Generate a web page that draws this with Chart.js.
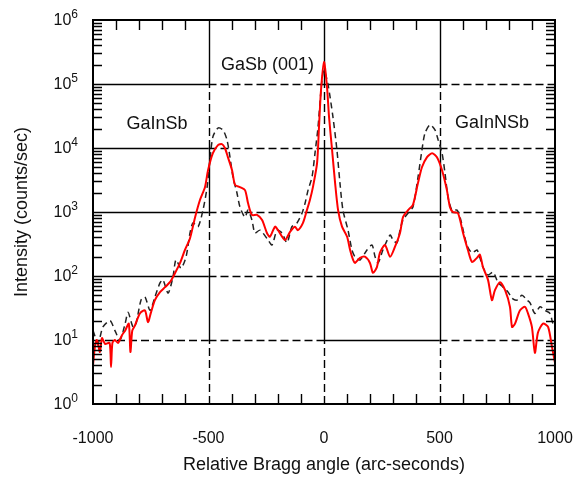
<!DOCTYPE html>
<html>
<head>
<meta charset="utf-8">
<script src="https://cdn.jsdelivr.net/npm/chart.js@4"></script>
<style>
html, body { margin: 0; padding: 0; background: #fff; }
#wrap { width: 584px; height: 479px; position: relative; }
</style>
</head>
<body>
<div id="wrap"><canvas id="xrd"></canvas></div>
<script>
// measured rocking curve (red)
var measuredX = [-1000, -991, -983, -970, -961, -948, -928, -922, -916, -905, -892, -874, -861, -845, -838, -830, -818,
  -797, -775, -762, -749, -732, -710, -688, -667, -649, -623, -602, -580, -558, -537, -515, -502, -481, -459, -442,
  -429, -416, -398, -385, -364, -342, -329, -312, -290, -268, -247, -234, -212, -199, -169, -147, -126, -113, -91,
  -74, -61, -48, -30, -22, -13, 0, 13, 22, 35, 48, 61, 78, 100, 113, 126, 134, 156, 177, 199, 212, 229, 242, 264,
  286, 307, 329, 342, 364, 385, 407, 424, 446, 468, 489, 511, 532, 545, 558, 580, 602, 623, 641, 662, 675, 688,
  710, 727, 740, 762, 784, 805, 814, 827, 848, 870, 883, 900, 913, 926, 948, 970, 987, 1000];
var measuredY = [4, 8.3, 10, 6.5, 10.7, 8.7, 9, 3.8, 9, 10, 9, 12, 14, 18, 6.5, 14, 17,
  26, 29, 19, 27, 42, 56, 67, 80, 104, 160, 255, 390, 830, 1540, 2460, 4500, 8300, 11100, 11500,
  10000, 7200, 4500, 2650, 2450, 2200, 1380, 900, 900, 750, 470, 410, 590, 520, 365, 490, 590, 520, 675,
  1070, 1540, 2450, 5800, 20000, 80000, 220000, 90000, 30000, 9300, 2850, 1070, 590, 410, 255, 178, 160, 192, 200, 160, 112, 138, 230, 305,
  200, 285, 470, 830, 1070, 1290, 2850, 5000, 7200, 8300, 7200, 4500, 2200, 1200, 1000, 960, 470, 255, 165, 192, 215, 138,
  87, 42, 60, 80, 60, 33, 16, 18, 29, 33, 26, 16, 6.3, 13, 18, 16, 7.8, 4.4];

// simulated curve (dashed)
var simX = [-1000, -978, -957, -926, -905, -883, -861, -848, -827, -814, -792, -775, -753, -732, -710, -697, -675,
  -654, -641, -619, -597, -580, -567, -545, -524, -506, -494, -481, -459, -437, -420, -407, -394, -377, -364, -342,
  -329, -312, -299, -277, -242, -225, -203, -182, -160, -139, -117, -95, -82, -69, -52, -39, -26, -9, 0, 17, 39,
  56, 69, 82, 104, 121, 134, 156, 186, 208, 221, 234, 255, 286, 299, 316, 329, 342, 364, 385, 407, 424, 437, 459,
  481, 494, 511, 524, 537, 554, 576, 589, 619, 641, 662, 675, 688, 710, 732, 753, 775, 797, 814, 835, 857, 879,
  892, 913, 935, 957, 978, 991, 1000];
var simY = [14, 9, 16, 20, 14, 10, 18, 27, 16, 18, 42, 47, 29, 47, 78, 87, 54,
  96, 178, 133, 200, 470, 675, 590, 1070, 2450, 6500, 14900, 20500, 19000, 13400, 7200, 3500, 2000, 1200, 830,
  1070, 750, 470, 520, 365, 305, 520, 470, 330, 590, 675, 960, 1370, 2200, 3500, 8300, 21000, 115000, 165000, 100000, 30000,
  9300, 2850, 1070, 520, 255, 200, 178, 255, 305, 200, 160, 255, 435, 365, 330, 520, 750, 960, 1200, 3500, 9300, 17000, 23000,
  19000, 13400, 8300, 4000, 1700, 1070, 1070, 830, 300, 230, 255, 192, 138, 104, 115, 80, 67, 56, 45, 42, 50, 42,
  38, 26, 33, 29, 26, 18, 16];

var xTicks = [-1000, -500, 0, 500, 1000];
var yTicks = [1, 10, 100, 1000, 10000, 100000, 1000000];
var peakNames = ['GaSb (001)', 'GaInSb', 'GaInNSb'];
var peakNameX = [-245, -723, 727];
var peakNameY = [200000, 24000, 24500];

function pairs(xs, ys) {
  return xs.map(function(x, i) { return {x: x, y: ys[i]}; });
}

var FONT = 'Liberation Sans, Arial, sans-serif';

var framePlugin = {
  id: 'frame',
  beforeDatasetsDraw: function(chart) {
    var ctx = chart.ctx, xs = chart.scales.x, ys = chart.scales.y;
    ctx.save();
    ctx.strokeStyle = '#000';
    ctx.lineWidth = 1.4;
    // horizontal grid: solid / dashed pieces between the vertical lines
    for (var d = 1; d < yTicks.length - 1; d++) {
      var py = Math.round(ys.getPixelForValue(yTicks[d])) + 0.5;
      for (var i = 0; i < xTicks.length - 1; i++) {
        var solid = (i % 2 === 0) && !(yTicks[d] === 10 && i === 0);
        ctx.setLineDash(solid ? [] : [8, 4]);
        ctx.beginPath();
        ctx.moveTo(xs.getPixelForValue(xTicks[i]), py);
        ctx.lineTo(xs.getPixelForValue(xTicks[i + 1]), py);
        ctx.stroke();
      }
    }
    // vertical grid
    for (var k = 1; k < xTicks.length - 1; k++) {
      var px = Math.round(xs.getPixelForValue(xTicks[k])) + 0.5;
      for (var j = 0; j < yTicks.length - 1; j++) {
        ctx.setLineDash(j % 2 === 1 ? [] : [8, 4]);
        ctx.beginPath();
        ctx.moveTo(px, ys.getPixelForValue(yTicks[j]));
        ctx.lineTo(px, ys.getPixelForValue(yTicks[j + 1]));
        ctx.stroke();
      }
    }
    ctx.restore();
  },
  afterDatasetsDraw: function(chart) {
    var ctx = chart.ctx, xs = chart.scales.x, ys = chart.scales.y, a = chart.chartArea;
    ctx.save();
    ctx.strokeStyle = '#000';
    ctx.lineWidth = 1.4;
    ctx.beginPath();
    // minor ticks on x, pointing inwards
    for (var v = -900; v < 1000; v += 100) {
      if (v % 500 === 0) continue;
      var px = Math.round(xs.getPixelForValue(v)) + 0.5;
      ctx.moveTo(px, a.bottom); ctx.lineTo(px, a.bottom - 10);
      ctx.moveTo(px, a.top); ctx.lineTo(px, a.top + 10);
    }
    // log minor ticks on y
    for (var d = 0; d < yTicks.length - 1; d++) {
      for (var m = 2; m <= 9; m++) {
        var py = Math.round(ys.getPixelForValue(yTicks[d] * m)) + 0.5;
        ctx.moveTo(a.left, py); ctx.lineTo(a.left + 9, py);
        ctx.moveTo(a.right, py); ctx.lineTo(a.right - 9, py);
      }
    }
    ctx.stroke();
    ctx.lineWidth = 2;
    ctx.strokeRect(a.left, a.top, a.right - a.left, a.bottom - a.top);

    // decade labels 10^n
    ctx.fillStyle = '#111';
    ctx.textAlign = 'right';
    for (var t = 0; t < yTicks.length; t++) {
      var y = ys.getPixelForValue(yTicks[t]);
      var exp = String(Math.round(Math.log10(yTicks[t])));
      ctx.font = '12px ' + FONT;
      ctx.textBaseline = 'alphabetic';
      ctx.fillText(exp, 78, y - 2);
      var w = ctx.measureText(exp).width;
      ctx.font = '16px ' + FONT;
      ctx.textBaseline = 'middle';
      ctx.fillText('10', 78 - w, y + 1);
    }

    // peak names
    ctx.font = '18px ' + FONT;
    ctx.textAlign = 'center';
    ctx.textBaseline = 'middle';
    for (var n = 0; n < peakNames.length; n++) {
      ctx.fillText(peakNames[n], xs.getPixelForValue(peakNameX[n]), ys.getPixelForValue(peakNameY[n]));
    }
    ctx.restore();
  }
};

var ctx = document.getElementById('xrd').getContext('2d');
var xrdChart = new Chart(ctx, {
  type: 'line',
  data: {
    datasets: [{
      label: 'Measured',
      data: pairs(measuredX, measuredY),
      borderColor: '#ff0000',
      borderWidth: 2,
      pointRadius: 0,
      tension: 0.25,
      fill: false
    }, {
      label: 'Simulated',
      data: pairs(simX, simY),
      borderColor: '#222',
      borderWidth: 1.5,
      borderDash: [6, 4],
      pointRadius: 0,
      tension: 0.25,
      fill: false
    }]
  },
  options: {
    responsive: true,
    maintainAspectRatio: false,
    animation: false,
    layout: { padding: { top: 20, right: 29, left: 0, bottom: 0 } },
    plugins: { legend: { display: false }, tooltip: { enabled: false } },
    scales: {
      x: {
        type: 'linear',
        min: -1000,
        max: 1000,
        afterBuildTicks: function(s) { s.ticks = xTicks.map(function(v) { return {value: v}; }); },
        afterFit: function(s) { s.height = 75; s.paddingLeft = 0; s.paddingRight = 0; },
        grid: { display: false },
        border: { display: false },
        ticks: {
          color: '#111',
          font: { family: FONT, size: 16 },
          padding: 17,
          maxRotation: 0,
          callback: function(v) { return String(v); }
        },
        title: {
          display: true,
          text: 'Relative Bragg angle (arc-seconds)',
          color: '#111',
          font: { family: FONT, size: 18 },
          padding: { top: 0, bottom: 3 }
        }
      },
      y: {
        type: 'logarithmic',
        min: 1,
        max: 1000000,
        afterBuildTicks: function(s) { s.ticks = yTicks.map(function(v) { return {value: v}; }); },
        afterFit: function(s) { s.width = 93; },
        grid: { display: false },
        border: { display: false },
        ticks: { display: false },
        title: {
          display: true,
          text: 'Intensity (counts/sec)',
          color: '#111',
          font: { family: FONT, size: 18 },
          padding: { top: 11, bottom: 0 }
        }
      }
    }
  },
  plugins: [framePlugin]
});
</script>
</body>
</html>
